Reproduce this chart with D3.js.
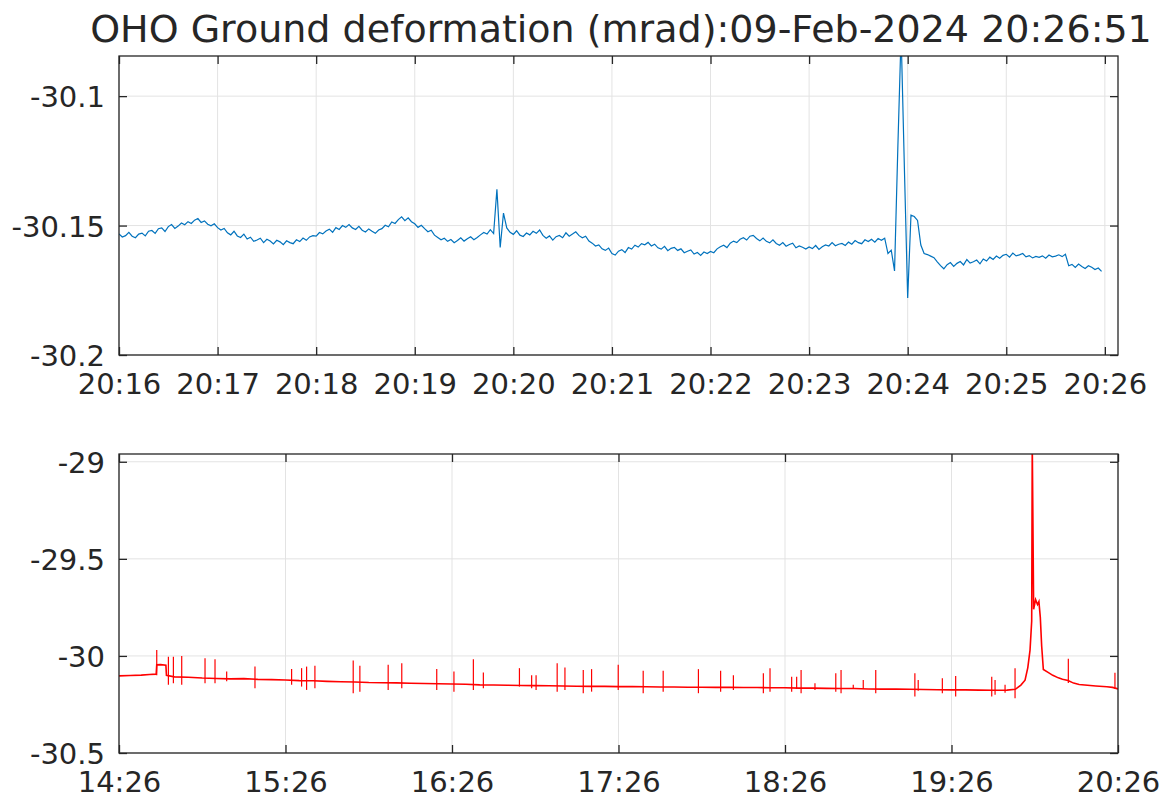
<!DOCTYPE html>
<html>
<head>
<meta charset="utf-8">
<script src="https://cdn.jsdelivr.net/npm/d3@7"></script>
<style>
  body { margin: 0; background: #fff; }
  svg { font-family: 'DejaVu Sans', sans-serif; }
</style>
</head>
<body>
<div class="chart-box"></div>
<script>
const titleText = 'OHO Ground deformation (mrad):09-Feb-2024 20:26:51';
const day = '2024-02-09';

// ---- top panel: last 10 minutes, one sample every 2 s from 20:16:00 ----
const recentStart = '20:16:00';
const recentEnd = '20:26:08';
const recentStepSeconds = 2;
const recentValues = [
  -30.1532, -30.1544, -30.1539, -30.1526, -30.1541, -30.1547, -30.1533, -30.1529, -30.1540, -30.1522,
  -30.1519, -30.1530, -30.1512, -30.1509, -30.1523, -30.1504, -30.1496, -30.1511, -30.1502, -30.1490,
  -30.1497, -30.1485, -30.1492, -30.1479, -30.1473, -30.1488, -30.1482, -30.1495, -30.1501, -30.1493,
  -30.1508, -30.1517, -30.1511, -30.1528, -30.1536, -30.1522, -30.1540, -30.1546, -30.1533, -30.1552,
  -30.1545, -30.1561, -30.1556, -30.1549, -30.1566, -30.1553, -30.1560, -30.1571, -30.1557, -30.1563,
  -30.1574, -30.1559, -30.1566, -30.1570, -30.1555, -30.1562, -30.1548, -30.1557, -30.1544, -30.1539,
  -30.1541, -30.1527, -30.1532, -30.1521, -30.1514, -30.1526, -30.1508, -30.1515, -30.1500, -30.1507,
  -30.1496, -30.1509, -30.1515, -30.1503, -30.1518, -30.1525, -30.1513, -30.1522, -30.1530, -30.1517,
  -30.1512, -30.1499, -30.1505, -30.1486, -30.1492, -30.1477, -30.1466, -30.1481, -30.1470, -30.1485,
  -30.1493, -30.1507, -30.1499, -30.1512, -30.1524, -30.1518, -30.1537, -30.1546, -30.1555, -30.1549,
  -30.1561, -30.1554, -30.1566, -30.1558, -30.1547, -30.1560, -30.1551, -30.1543, -30.1555, -30.1546,
  -30.1536, -30.1527, -30.1533, -30.1516, -30.1531, -30.1360, -30.1585, -30.1452, -30.1509, -30.1526,
  -30.1534, -30.1520, -30.1537, -30.1542, -30.1529, -30.1536, -30.1522, -30.1530, -30.1517, -30.1538,
  -30.1549, -30.1540, -30.1556, -30.1543, -30.1538, -30.1547, -30.1528, -30.1541, -30.1533, -30.1524,
  -30.1539, -30.1547, -30.1541, -30.1560, -30.1568, -30.1579, -30.1575, -30.1590, -30.1596, -30.1587,
  -30.1608, -30.1614, -30.1599, -30.1593, -30.1604, -30.1585, -30.1591, -30.1576, -30.1583, -30.1570,
  -30.1574, -30.1565, -30.1579, -30.1572, -30.1586, -30.1591, -30.1580, -30.1597, -30.1588, -30.1584,
  -30.1596, -30.1590, -30.1605, -30.1599, -30.1594, -30.1610, -30.1604, -30.1615, -30.1602, -30.1608,
  -30.1600, -30.1605, -30.1590, -30.1582, -30.1576, -30.1585, -30.1568, -30.1560, -30.1566, -30.1553,
  -30.1547, -30.1556, -30.1541, -30.1538, -30.1550, -30.1559, -30.1548, -30.1561, -30.1567, -30.1555,
  -30.1569, -30.1576, -30.1566, -30.1580, -30.1573, -30.1568, -30.1586, -30.1579, -30.1584, -30.1591,
  -30.1583, -30.1589, -30.1577, -30.1592, -30.1582, -30.1575, -30.1579, -30.1566, -30.1578, -30.1572,
  -30.1569, -30.1577, -30.1564, -30.1572, -30.1558, -30.1566, -30.1570, -30.1555, -30.1562, -30.1553,
  -30.1564, -30.1550, -30.1557, -30.1549, -30.1608, -30.1595, -30.1675, -30.1200, -30.0760, -30.1280,
  -30.1780, -30.1460, -30.1465, -30.1480, -30.1575, -30.1608, -30.1612, -30.1618, -30.1624, -30.1640,
  -30.1655, -30.1667, -30.1651, -30.1643, -30.1658, -30.1646, -30.1639, -30.1652, -30.1631, -30.1645,
  -30.1640, -30.1633, -30.1648, -30.1629, -30.1637, -30.1622, -30.1631, -30.1618, -30.1626, -30.1615,
  -30.1611, -30.1622, -30.1606, -30.1617, -30.1613, -30.1608, -30.1621, -30.1616, -30.1625, -30.1619,
  -30.1623, -30.1617, -30.1626, -30.1614, -30.1621, -30.1618, -30.1613, -30.1620, -30.1611, -30.1655,
  -30.1650, -30.1662, -30.1649, -30.1658, -30.1666, -30.1655, -30.1661, -30.1670, -30.1664, -30.1677
];
const recentTickLabels = ['20:16', '20:17', '20:18', '20:19', '20:20', '20:21', '20:22', '20:23', '20:24', '20:25', '20:26'];
const recentYTicks = [-30.2, -30.15, -30.1];
const recentYLabels = ['-30.2', '-30.15', '-30.1'];
const recentYRange = [-30.2, -30.0845];

// ---- bottom panel: last 6 hours, minutes after 14:26 ----
const longStart = '14:26:00';
const longEnd = '20:26:00';
const longMinutes = [
  0, 4, 8, 11, 13.4, 13.6, 15, 16.9, 17.1, 20, 25, 30, 35, 40, 45, 50, 55, 60, 65, 70,
  75, 80, 85, 90, 95, 100, 105, 110, 115, 120, 125, 130, 135, 140, 145, 150, 155, 160, 165, 170,
  175, 180, 185, 190, 195, 200, 205, 210, 215, 220, 225, 230, 235, 240, 245, 250, 255, 260, 265, 270,
  275, 280, 285, 290, 295, 300, 305, 310, 315, 320, 323, 325, 326.5, 327.5, 328.3, 328.9, 329.1, 329.3, 329.6, 330.3,
  331, 331.5, 332, 332.5, 333.1, 334.8, 336.5, 338.5, 340, 342, 344, 346, 348, 352, 356, 358, 360
];
const longValues = [
  -30.103, -30.101, -30.099, -30.096, -30.094, -30.046, -30.045, -30.048, -30.100, -30.108,
  -30.110, -30.114, -30.116, -30.118, -30.117, -30.121, -30.122, -30.124, -30.127, -30.128,
  -30.131, -30.133, -30.134, -30.137, -30.138, -30.139, -30.141, -30.142, -30.143, -30.145,
  -30.146, -30.149, -30.150, -30.151, -30.152, -30.153, -30.154, -30.155, -30.156, -30.157,
  -30.157, -30.158, -30.158, -30.159, -30.160, -30.160, -30.161, -30.161, -30.162, -30.162,
  -30.163, -30.163, -30.164, -30.164, -30.166, -30.166, -30.167, -30.168, -30.168, -30.170,
  -30.171, -30.171, -30.172, -30.173, -30.174, -30.175, -30.175, -30.176, -30.177, -30.176,
  -30.172, -30.150, -30.125, -30.060, -29.970, -29.820, -28.900, -29.240, -29.760, -29.710,
  -29.735, -29.720, -29.800, -29.950, -30.070, -30.085, -30.100, -30.113, -30.120, -30.127,
  -30.140, -30.147, -30.150, -30.155, -30.159, -30.162, -30.170
];
// short glitches: minute, highest and lowest reading
const glitchMinutes = [
  13.6, 17.8, 19.6, 22.6, 31, 34.6, 38.8, 49, 62.2, 65.8, 67.6, 70.6, 84.4, 86.8, 97, 101.9,
  114.5, 120.7, 127.7, 131.3, 144.3, 148.7, 150.3, 157.9, 160.7, 167.3, 170.3, 179.9, 188.9,
  196.1, 208.8, 216.8, 221.4, 232.2, 234.6, 242.4, 244.2, 245.8, 250.8, 258.3, 260.2, 264.6,
  268.2, 272.7, 286.8, 288, 296.7, 301.5, 314.5, 315.7, 319.3, 322.9, 342.1, 358.9
];
const glitchHigh = [
  -29.969, -30.004, -30.004, -30.000, -30.012, -30.017, -30.080, -30.055, -30.068, -30.063, -30.055, -30.051, -30.024, -30.051, -30.046, -30.038,
  -30.068, -30.080, -30.017, -30.085, -30.063, -30.100, -30.100, -30.038, -30.059, -30.072, -30.068, -30.046, -30.076,
  -30.076, -30.068, -30.076, -30.100, -30.089, -30.063, -30.107, -30.107, -30.072, -30.141, -30.089, -30.072, -30.149,
  -30.124, -30.072, -30.089, -30.124, -30.115, -30.103, -30.107, -30.124, -30.149, -30.063, -30.015, -30.087
];
const glitchLow = [
  -30.100, -30.149, -30.141, -30.149, -30.141, -30.141, -30.130, -30.166, -30.149, -30.158, -30.175, -30.166, -30.192, -30.184, -30.175, -30.166,
  -30.175, -30.184, -30.175, -30.166, -30.158, -30.166, -30.175, -30.184, -30.175, -30.192, -30.184, -30.175, -30.192,
  -30.184, -30.192, -30.184, -30.175, -30.192, -30.184, -30.184, -30.170, -30.192, -30.175, -30.184, -30.192, -30.170,
  -30.170, -30.192, -30.209, -30.180, -30.192, -30.209, -30.209, -30.200, -30.190, -30.218, -30.140, -30.170
];
const longTickLabels = ['14:26', '15:26', '16:26', '17:26', '18:26', '19:26', '20:26'];
const longYTicks = [-30.5, -30, -29.5, -29];
const longYLabels = ['-30.5', '-30', '-29.5', '-29'];
const longYRange = [-30.5, -28.96];

// ===================== LAYOUT ===================== //
const dimensions = { width: 1167, height: 800 };
const textColor = '#262626';
const parseTime = d3.timeParse('%Y-%m-%d %H:%M:%S');
const at = (hms) => parseTime(`${day} ${hms.length === 5 ? hms + ':00' : hms}`);

const svg = d3
  .select('.chart-box')
  .append('svg')
  .attr('width', dimensions.width)
  .attr('height', dimensions.height);

svg
  .append('text')
  .attr('x', 621)
  .attr('y', 42)
  .attr('text-anchor', 'middle')
  .attr('font-size', 38)
  .attr('fill', textColor)
  .text(titleText);

// build one MATLAB-like axes box
const drawPanel = (cfg) => {
  const width = cfg.right - cfg.left;
  const height = cfg.bottom - cfg.top;
  const g = svg.append('g').attr('transform', `translate(${cfg.left}, ${cfg.top})`);

  const x = d3.scaleTime().domain(cfg.xDomain).range([0, width]);
  const y = d3.scaleLinear().domain(cfg.yDomain).range([height, 0]);
  const xTicks = cfg.xTickLabels.map(at);

  // grid
  g.append('g')
    .selectAll('line')
    .data(xTicks)
    .enter()
    .append('line')
    .attr('x1', (d) => x(d))
    .attr('x2', (d) => x(d))
    .attr('y1', 0)
    .attr('y2', height)
    .attr('stroke', '#e3e3e3');
  g.append('g')
    .selectAll('line')
    .data(cfg.yTicks)
    .enter()
    .append('line')
    .attr('x1', 0)
    .attr('x2', width)
    .attr('y1', (d) => y(d))
    .attr('y2', (d) => y(d))
    .attr('stroke', '#e3e3e3');

  // data, clipped to the box
  g.append('clipPath')
    .attr('id', `clip-${cfg.id}`)
    .append('rect')
    .attr('width', width)
    .attr('height', height);
  const plot = g.append('g').attr('clip-path', `url(#clip-${cfg.id})`);
  cfg.drawData(plot, x, y);

  // ticks inside on all four sides
  const xFormat = (d, i) => cfg.xTickLabels[i];
  const yFormat = (d, i) => cfg.yLabels[i];
  const bottomAxis = g
    .append('g')
    .attr('transform', `translate(0, ${height})`)
    .call(d3.axisBottom(x).tickValues(xTicks).tickFormat(xFormat).tickSize(-8).tickPadding(18));
  g.append('g').call(d3.axisTop(x).tickValues(xTicks).tickFormat('').tickSize(-8));
  const leftAxis = g
    .append('g')
    .call(d3.axisLeft(y).tickValues(cfg.yTicks).tickFormat(yFormat).tickSize(-8).tickPadding(14));
  g.append('g')
    .attr('transform', `translate(${width}, 0)`)
    .call(d3.axisRight(y).tickValues(cfg.yTicks).tickFormat('').tickSize(-8));

  g.selectAll('.domain').remove();
  g.selectAll('.tick line').attr('stroke', textColor).attr('stroke-width', 1.3);
  [bottomAxis, leftAxis].forEach((a) =>
    a.selectAll('text').attr('font-size', 29).attr('fill', textColor).attr('font-family', 'DejaVu Sans')
  );
  leftAxis.selectAll('text').attr('dy', '0.36em');

  g.append('rect')
    .attr('width', width)
    .attr('height', height)
    .attr('fill', 'none')
    .attr('stroke', textColor)
    .attr('stroke-width', 1.3);
};

// ===================== TOP: 10 MINUTES ===================== //
const recentT0 = at(recentStart);
const recentPoints = recentValues.map((v, i) => ({
  time: new Date(recentT0.getTime() + i * recentStepSeconds * 1000),
  value: v,
}));

drawPanel({
  id: 'recent',
  left: 119,
  right: 1118,
  top: 56,
  bottom: 355,
  xDomain: [recentT0, at(recentEnd)],
  yDomain: recentYRange,
  xTickLabels: recentTickLabels,
  yTicks: recentYTicks,
  yLabels: recentYLabels,
  drawData: (plot, x, y) => {
    const line = d3.line().x((d) => x(d.time)).y((d) => y(d.value));
    plot
      .append('path')
      .datum(recentPoints)
      .attr('d', line)
      .attr('fill', 'none')
      .attr('stroke', '#0072bd')
      .attr('stroke-width', 1.2);
  },
});

// ===================== BOTTOM: 6 HOURS ===================== //
const longT0 = at(longStart);
const minuteToDate = (m) => new Date(longT0.getTime() + m * 60000);
const longPoints = longMinutes.map((m, i) => ({ time: minuteToDate(m), value: longValues[i] }));
const glitches = glitchMinutes.map((m, i) => ({ time: minuteToDate(m), high: glitchHigh[i], low: glitchLow[i] }));

drawPanel({
  id: 'long',
  left: 119,
  right: 1118,
  top: 454,
  bottom: 753,
  xDomain: [longT0, at(longEnd)],
  yDomain: longYRange,
  xTickLabels: longTickLabels,
  yTicks: longYTicks,
  yLabels: longYLabels,
  drawData: (plot, x, y) => {
    const line = d3.line().x((d) => x(d.time)).y((d) => y(d.value));
    plot
      .append('path')
      .datum(longPoints)
      .attr('d', line)
      .attr('fill', 'none')
      .attr('stroke', '#ff0000')
      .attr('stroke-width', 1.6);
    plot
      .selectAll('.glitch')
      .data(glitches)
      .enter()
      .append('line')
      .attr('class', 'glitch')
      .attr('x1', (d) => x(d.time))
      .attr('x2', (d) => x(d.time))
      .attr('y1', (d) => y(d.high))
      .attr('y2', (d) => y(d.low))
      .attr('stroke', '#ff0000')
      .attr('stroke-width', 1.2);
  },
});
</script>
</body>
</html>
